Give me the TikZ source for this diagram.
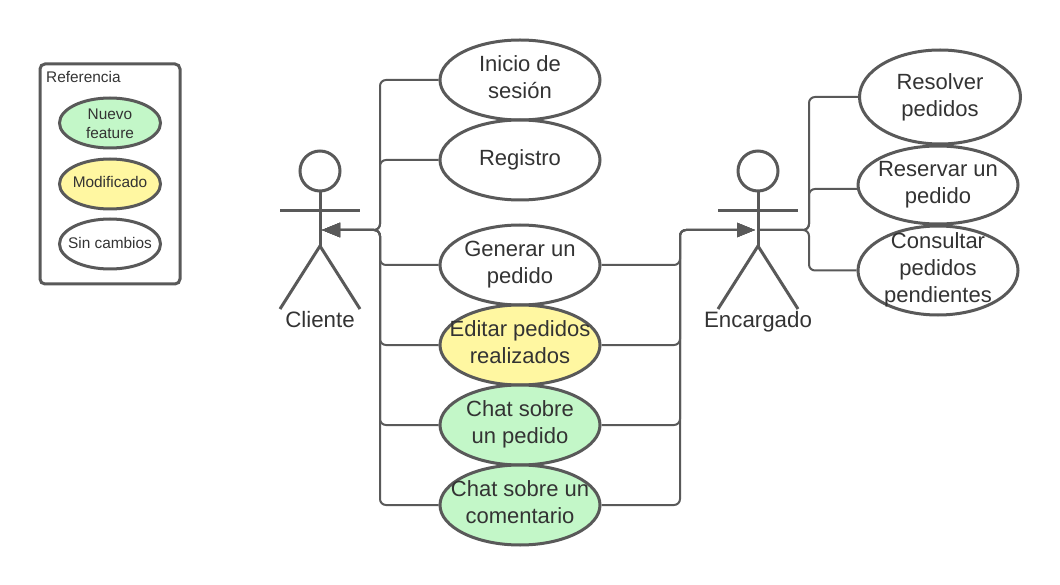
\documentclass[tikz,border=0pt]{standalone}
\usepackage{fontspec}
\setmainfont{Liberation Sans}
\usetikzlibrary{arrows.meta,shapes.geometric}
\definecolor{ln}{HTML}{595959}
\definecolor{tx}{HTML}{333333}
\definecolor{gr}{HTML}{C3F7C8}
\definecolor{ye}{HTML}{FFF7A1}
\newcommand{\ctext}[2][1pt]{\smash{\makebox[0pt]{\raisebox{\dimexpr#1-.25em\relax}{\begin{tabular}{@{}c@{}}#2\end{tabular}}}}}
\tikzset{
 uc/.style={draw=ln,line width=3pt,ellipse,inner sep=0pt,minimum width=160pt,minimum height=80pt,text=tx,font=\fontsize{22}{27}\selectfont,fill=white},
 lg/.style={draw=ln,line width=3pt,ellipse,inner sep=0pt,minimum width=101pt,minimum height=50pt,text=tx,font=\fontsize{15.4}{19}\selectfont,fill=white},
 conn/.style={draw=ln,line width=2pt,rounded corners=6pt},
 stick/.style={draw=ln,line width=3pt},
 actlabel/.style={text=tx,font=\fontsize{22.3}{25}\selectfont,inner sep=0pt,anchor=base},
 tip/.style={-{Triangle[length=18pt,width=14pt]}}
}
\begin{document}
\begin{tikzpicture}[x=1pt,y=-1pt]
\useasboundingbox (0,0) rectangle (1060,585);
% coordinates
\coordinate (cli) at (322,230);
\coordinate (enc) at (755,230);
\coordinate (encb) at (758,230);
\coordinate (lb) at (380,230);
\coordinate (mb) at (680,230);
\coordinate (rb) at (809,230);
\coordinate (rsvp) at (858,189);
% use cases
\node[uc] (ini) at (520,80) {\ctext{Inicio de\\sesión}};
\node[uc] (reg) at (520,160) {\ctext[0pt]{Registro}};
\node[uc] (gen) at (520,265) {\ctext{Generar un\\pedido}};
\node[uc,fill=ye] (edi) at (520,345) {\ctext{Editar pedidos\\realizados}};
\node[uc,fill=gr] (cha) at (520,425) {\ctext{Chat sobre\\un pedido}};
\node[uc,fill=gr] (chb) at (520,505) {\ctext{Chat sobre un\\comentario}};
\node[uc,minimum width=161pt,minimum height=94pt] (res) at (940,97) {\ctext[0pt]{Resolver\\pedidos}};
\node[uc,minimum height=78pt] (rsv) at (938,185) {\ctext{Reservar un\\pedido}};
\node[uc,minimum height=89pt] (con) at (938,270.5) {\ctext{Consultar\\pedidos\\pendientes}};
\foreach \n in {ini,reg,gen,edi,cha,chb}
  \draw[conn,tip] (\n.west) -- (\n.west -| lb) -- (lb) -- (cli);
\foreach \n in {gen,edi,cha,chb}
  \draw[conn,tip] (\n.east) -- (\n.east -| mb) -- (mb) -- (enc);
\draw[conn] (res.west) -- (res.west -| rb) -- (rb) -- (encb);
\draw[conn] (rsvp) -- (rsvp -| rb) -- (rb) -- (encb);
\draw[conn] (con.west) -- (con.west -| rb) -- (rb) -- (encb);
% actors
\node[draw=ln,line width=3pt,circle,minimum size=40pt,inner sep=0pt] (h1) at (320,171) {};
\coordinate (hip1) at (320,246);
\coordinate (al1) at (280,309);
\coordinate (ar1) at (360,309);
\coordinate (hl1) at (280,211);
\coordinate (hr1) at (360,211);
\draw[stick] (h1.south) -- (hip1);
\draw[stick] (hl1) -- (hr1);
\draw[stick] (al1) -- (hip1) -- (ar1);
\node[actlabel] (lc) at (320,327) {Cliente};
\node[draw=ln,line width=3pt,circle,minimum size=40pt,inner sep=0pt] (h2) at (758,171) {};
\coordinate (hip2) at (758,246);
\coordinate (al2) at (718,309);
\coordinate (ar2) at (798,309);
\coordinate (hl2) at (718,211);
\coordinate (hr2) at (798,211);
\draw[stick] (h2.south) -- (hip2);
\draw[stick] (hl2) -- (hr2);
\draw[stick] (al2) -- (hip2) -- (ar2);
\node[actlabel] (le) at (758,327) {Encargado};
% legend
\node[draw=ln,line width=3pt,rounded corners=5pt,minimum width=140pt,minimum height=220pt,inner sep=0pt] (box) at (110,174) {};
\node[anchor=west,inner sep=0pt,text=tx,font=\fontsize{15.4}{18}\selectfont] (rf) at (46,77) {Referencia};
\node[lg,fill=gr] (l1) at (110,123) {\ctext[-2pt]{Nuevo\\feature}};
\node[lg,fill=ye] (l2) at (110,184) {\ctext[1pt]{Modificado}};
\node[lg] (l3) at (110,244) {\ctext[0pt]{Sin cambios}};
\end{tikzpicture}
\end{document}
